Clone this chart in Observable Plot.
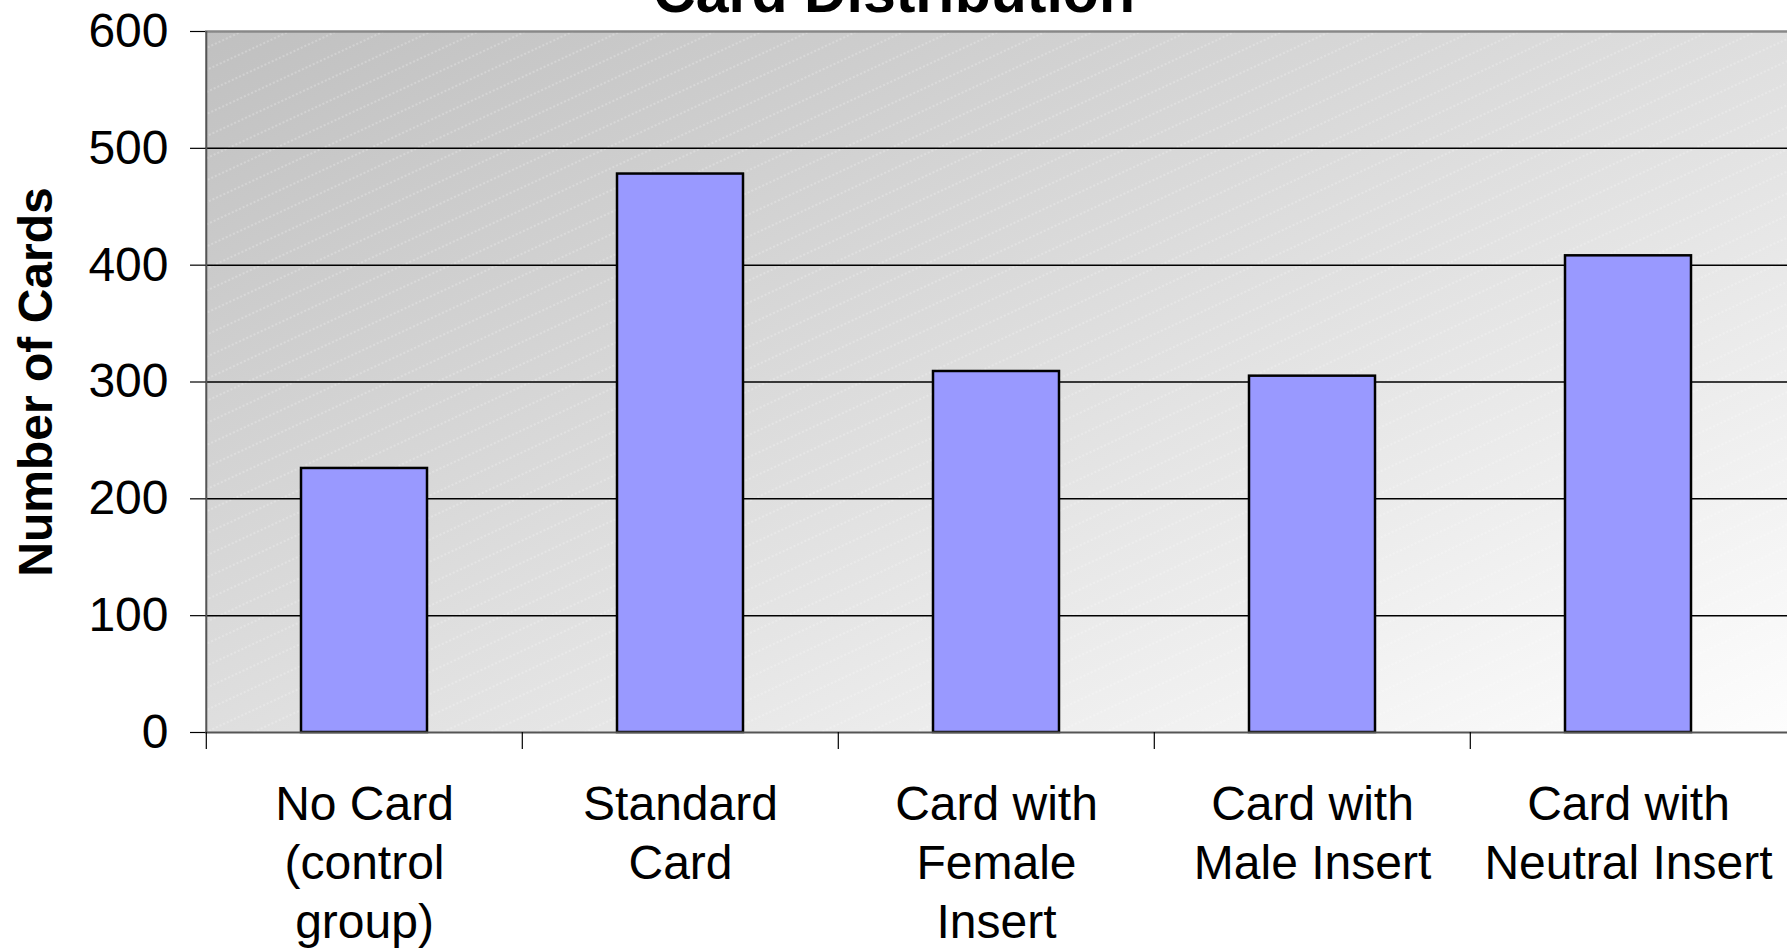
<!DOCTYPE html>
<html><head><meta charset="utf-8">
<script src="https://cdn.jsdelivr.net/npm/d3@7"></script>
<script src="https://cdn.jsdelivr.net/npm/@observablehq/plot@0.6"></script>
<style>body{margin:0;background:#fff;overflow:hidden}</style>
</head><body><div id="chart"></div>
<script>
const categories = ["No Card", "Standard Card", "Card with Female Insert", "Card with Male Insert", "Card with Neutral Insert"];
const categoryLabels = ["No Card\n(control\ngroup)", "Standard\nCard", "Card with\nFemale\nInsert", "Card with\nMale Insert", "Card with\nNeutral Insert"];
const values = [226, 478, 309, 305, 408];
const yTicks = [0, 100, 200, 300, 400, 500, 600];
const title = "Card Distribution";
const yLabel = "Number of Cards";

const data = categories.map((c, i) => ({category: c, value: values[i]}));
const labelOf = new Map(categories.map((c, i) => [c, categoryLabels[i]]));

const W = 1787, H = 951, mL = 205, mR = 0, mT = 31, mB = 219;
const step = (W - mL - mR) / categories.length;
const font = "'Liberation Sans', Arial, Helvetica, sans-serif";

const plot = Plot.plot({
  width: W, height: H,
  marginLeft: mL, marginRight: mR, marginTop: mT, marginBottom: mB,
  style: {fontFamily: font, background: "#fff", color: "#000"},
  x: {domain: categories, paddingInner: 0.6, paddingOuter: 0.3, label: null},
  y: {domain: [0, 600], label: null},
  marks: [
    Plot.frame({fill: "url(#bgGrad)"}),
    Plot.frame({fill: "url(#bgHatch)"}),
    Plot.ruleY(yTicks.filter(d => d > 0 && d < 600), {stroke: "#000", strokeWidth: 1.5}),
    Plot.ruleY([600], {stroke: "#888", strokeWidth: 2.5}),
    Plot.barY(data, {x: "category", y: "value", fill: "#9999ff", stroke: "#000", strokeWidth: 2.5}),
    Plot.ruleY([0], {stroke: "#555", strokeWidth: 2}),
    Plot.ruleX([categories[0]], {x: d => d, y1: 0, y2: 600, dx: -step / 2, stroke: "#555", strokeWidth: 2}),
    Plot.ruleX(categories, {x: d => d, y1: 0, y2: 0, insetBottom: -17, dx: -step / 2, stroke: "#000", strokeWidth: 1.2}),
    Plot.axisY({ticks: yTicks, tickSize: 15, tickPadding: 22, fontSize: 48, stroke: "#000", strokeWidth: 1.2, tickFormat: d => String(d), label: null}),
    Plot.axisX({tickSize: 0, tickPadding: 45, fontSize: 48, lineHeight: 1.235, tickFormat: d => labelOf.get(d), label: null}),
    Plot.text([title], {frameAnchor: "top", dy: -20, dx: W / 2 - (mL + (W - mL - mR) / 2), lineAnchor: "bottom", fontSize: 59, fontWeight: "bold", fill: "#000"}),
    Plot.text([yLabel], {frameAnchor: "left", textAnchor: "middle", rotate: -90, dx: -169, fontSize: 48, fontWeight: "bold", fill: "#000"})
  ]
});

const svg = d3.select(plot);
const defs = svg.insert("defs", ":first-child");
const g = defs.append("linearGradient").attr("id", "bgGrad")
  .attr("x1", 0).attr("y1", 0).attr("x2", 1).attr("y2", 1);
g.append("stop").attr("offset", 0).attr("stop-color", "#c0c0c0");
g.append("stop").attr("offset", 1).attr("stop-color", "#fdfdfd");
const p = defs.append("pattern").attr("id", "bgHatch")
  .attr("patternUnits", "userSpaceOnUse").attr("width", 40).attr("height", 20)
  .attr("patternTransform", "rotate(-25)");
p.append("line").attr("x1", 0).attr("y1", 10).attr("x2", 40).attr("y2", 10)
  .attr("stroke", "#fff").attr("stroke-opacity", 0.45).attr("stroke-width", 1)
  .attr("stroke-dasharray", "2 2");

document.getElementById("chart").appendChild(plot);
</script>
</body></html>
